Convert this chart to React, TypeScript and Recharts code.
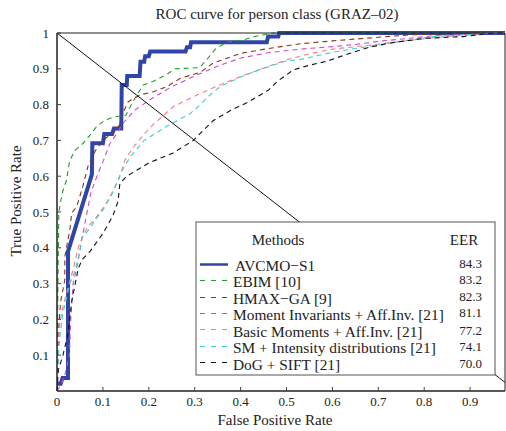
import React from 'react';
import { LineChart, Line, XAxis, YAxis } from 'recharts';

type P = [number, number];

const xTicks = [0, 0.1, 0.2, 0.3, 0.4, 0.5, 0.6, 0.7, 0.8, 0.9];
const yTicks = [0.1, 0.2, 0.3, 0.4, 0.5, 0.6, 0.7, 0.8, 0.9, 1];

const methods = [
  'AVCMO−S1',
  'EBIM [10]',
  'HMAX−GA [9]',
  'Moment Invariants + Aff.Inv. [21]',
  'Basic Moments + Aff.Inv. [21]',
  'SM + Intensity distributions [21]',
  'DoG + SIFT [21]',
];
const eer = ['84.3', '83.2', '82.3', '81.1', '77.2', '74.1', '70.0'];
const colors = ['#2f45a8', '#22a022', '#8c3410', '#cc4acc', '#ff7a7a', '#3ccfcf', '#111111'];

const avcmo: P[] = [
  [0, 0.02], [0.008, 0.02], [0.012, 0.036], [0.024, 0.036], [0.024, 0.39], [0.076, 0.605],
  [0.077, 0.692], [0.1, 0.692], [0.103, 0.718], [0.12, 0.718], [0.124, 0.733], [0.14, 0.733],
  [0.141, 0.855], [0.152, 0.855], [0.153, 0.88], [0.18, 0.88], [0.182, 0.92], [0.19, 0.92],
  [0.192, 0.935], [0.2, 0.935], [0.203, 0.948], [0.28, 0.948], [0.283, 0.96], [0.29, 0.96],
  [0.292, 0.974], [0.457, 0.974], [0.46, 0.99], [0.482, 0.99], [0.484, 1], [1, 1],
];
const ebim: P[] = [
  [0, 0], [0.002, 0.3], [0.004, 0.5], [0.008, 0.53], [0.013, 0.56], [0.021, 0.59], [0.024, 0.617],
  [0.028, 0.645], [0.04, 0.673], [0.057, 0.692], [0.072, 0.715], [0.086, 0.738], [0.105, 0.757],
  [0.126, 0.766], [0.15, 0.77], [0.166, 0.81], [0.188, 0.855], [0.21, 0.865], [0.24, 0.885],
  [0.257, 0.9], [0.31, 0.903], [0.326, 0.925], [0.345, 0.955], [0.37, 0.975], [0.405, 0.98],
  [0.43, 0.99], [0.47, 1], [1, 1],
];
const hmax: P[] = [
  [0, 0], [0.003, 0.12], [0.004, 0.18], [0.008, 0.25], [0.017, 0.31], [0.017, 0.375], [0.021, 0.403],
  [0.028, 0.45], [0.032, 0.497], [0.043, 0.515], [0.057, 0.575], [0.068, 0.63], [0.083, 0.67],
  [0.1, 0.7], [0.128, 0.728], [0.137, 0.745], [0.141, 0.77], [0.155, 0.808], [0.181, 0.827],
  [0.21, 0.836], [0.239, 0.85], [0.268, 0.873], [0.312, 0.89], [0.34, 0.916], [0.36, 0.925],
  [0.4, 0.943], [0.457, 0.956], [0.53, 0.97], [0.6, 0.978], [0.7, 0.988], [0.77, 0.995], [0.9, 1], [1, 1],
];
const moment: P[] = [
  [0, 0], [0.01, 0.02], [0.018, 0.05], [0.027, 0.1], [0.03, 0.2], [0.035, 0.3], [0.044, 0.35],
  [0.055, 0.43], [0.064, 0.49], [0.074, 0.555], [0.09, 0.61], [0.1, 0.64], [0.115, 0.69],
  [0.133, 0.725], [0.145, 0.75], [0.17, 0.785], [0.21, 0.82], [0.25, 0.85], [0.3, 0.88],
  [0.355, 0.91], [0.4, 0.93], [0.46, 0.945], [0.53, 0.955], [0.6, 0.962], [0.65, 0.968],
  [0.71, 0.978], [0.82, 0.992], [0.95, 1], [1, 1],
];
const basic: P[] = [
  [0, 0], [0.002, 0.12], [0.005, 0.18], [0.012, 0.23], [0.024, 0.29], [0.035, 0.338], [0.046, 0.4],
  [0.057, 0.436], [0.068, 0.46], [0.085, 0.485], [0.1, 0.51], [0.111, 0.533], [0.133, 0.585],
  [0.148, 0.645], [0.166, 0.68], [0.188, 0.715], [0.21, 0.745], [0.253, 0.794], [0.305, 0.827],
  [0.355, 0.855], [0.4, 0.878], [0.44, 0.897], [0.5, 0.925], [0.55, 0.942], [0.6, 0.955],
  [0.675, 0.965], [0.82, 0.987], [0.95, 1], [1, 1],
];
const smInt: P[] = [
  [0, 0], [0.003, 0.105], [0.007, 0.16], [0.013, 0.218], [0.028, 0.3], [0.04, 0.338], [0.05, 0.39],
  [0.054, 0.427], [0.072, 0.455], [0.083, 0.478], [0.1, 0.505], [0.12, 0.55], [0.14, 0.612],
  [0.16, 0.655], [0.19, 0.7], [0.24, 0.74], [0.29, 0.775], [0.31, 0.797], [0.327, 0.82],
  [0.355, 0.85], [0.4, 0.877], [0.44, 0.897], [0.5, 0.922], [0.53, 0.926], [0.6, 0.946],
  [0.675, 0.962], [0.82, 0.99], [0.95, 1], [1, 1],
];
const dogSift: P[] = [
  [0, 0], [0.003, 0.06], [0.013, 0.1], [0.024, 0.16], [0.032, 0.25], [0.046, 0.34], [0.054, 0.366],
  [0.072, 0.39], [0.1, 0.44], [0.122, 0.49], [0.133, 0.53], [0.137, 0.58], [0.152, 0.6],
  [0.2, 0.637], [0.253, 0.665], [0.297, 0.7], [0.34, 0.755], [0.38, 0.785], [0.415, 0.806],
  [0.46, 0.84], [0.48, 0.865], [0.515, 0.897], [0.55, 0.91], [0.59, 0.922], [0.63, 0.94],
  [0.68, 0.96], [0.725, 0.972], [0.8, 0.985], [0.885, 0.99], [0.95, 1], [1, 1],
];
const diagonal: P[] = [[0, 1], [1, 0]];

const seriesData = [avcmo, ebim, hmax, moment, basic, smInt, dogSift];

const toPts = (a: P[]) => a.map(([x, y]) => ({ x, y }));

const FONT = '"Liberation Serif", "DejaVu Serif", serif';
const fmt = (v: number) => (v === 1 ? '1' : String(v));

export default function App() {
  const tickStyle = { fontSize: 13, fill: '#222', fontFamily: FONT };
  return (
    <div style={{ position: 'absolute', left: 0, top: 0, width: 506, height: 431, background: '#fff' }}>
      <LineChart width={506} height={431} margin={{ top: 32, right: 0, bottom: 10, left: 0 }} style={{ fontFamily: FONT }}>
        <XAxis
          xAxisId={0}
          dataKey="x"
          type="number"
          domain={[0, 0.976]}
          allowDataOverflow
          ticks={xTicks}
          tickFormatter={fmt}
          tickSize={-4}
          tickMargin={10}
          height={30}
          tick={tickStyle}
          stroke="#222"
          axisLine={{ stroke: '#222', strokeWidth: 1.5 }}
          tickLine={{ stroke: '#444' }}
        />
        <XAxis
          xAxisId="top"
          orientation="top"
          dataKey="x"
          type="number"
          domain={[0, 0.976]}
          allowDataOverflow
          ticks={xTicks}
          tick={false}
          tickSize={-4}
          height={1}
          axisLine={{ stroke: '#222', strokeWidth: 1.2 }}
          tickLine={{ stroke: '#444' }}
        />
        <YAxis
          yAxisId={0}
          type="number"
          domain={[0, 1]}
          ticks={yTicks}
          tickFormatter={fmt}
          tickSize={-4}
          tickMargin={12}
          width={57}
          tick={tickStyle}
          axisLine={{ stroke: '#222', strokeWidth: 1.5 }}
          tickLine={{ stroke: '#444' }}
        />
        <YAxis
          yAxisId="right"
          orientation="right"
          type="number"
          domain={[0, 1]}
          ticks={yTicks}
          tick={false}
          tickSize={-4}
          width={1}
          axisLine={{ stroke: '#222', strokeWidth: 1 }}
          tickLine={{ stroke: '#444' }}
        />
        {seriesData.map((d, i) => (
          <Line
            key={methods[i]}
            data={toPts(d)}
            dataKey="y"
            type="linear"
            stroke={colors[i]}
            strokeWidth={i === 0 ? 4 : 1.1}
            strokeDasharray={i === 0 ? undefined : '5 4'}
            dot={false}
            activeDot={false}
            isAnimationActive={false}
          />
        ))}
        <Line
          data={toPts(diagonal)}
          dataKey="y"
          type="linear"
          stroke="#111"
          strokeWidth={1}
          dot={false}
          activeDot={false}
          isAnimationActive={false}
        />
      </LineChart>
      <svg
        width={506}
        height={431}
        style={{ position: 'absolute', left: 0, top: 0, pointerEvents: 'none', fontFamily: FONT }}
      >
        <text x={277} y={14} textAnchor="middle" dominantBaseline="central" fontSize={15} fill="#222">
          ROC curve for person class (GRAZ–02)
        </text>
        <text x={275} y={420} textAnchor="middle" dominantBaseline="central" fontSize={15} fill="#222">
          False Positive Rate
        </text>
        <text
          x={16}
          y={201}
          textAnchor="middle"
          dominantBaseline="central"
          fontSize={15}
          fill="#222"
          transform="rotate(-90 16 201)"
        >
          True Positive Rate
        </text>
        <rect x={196} y={222} width={299} height={153} fill="#fff" stroke="#555" strokeWidth={1} />
        <text x={278} y={240} textAnchor="middle" dominantBaseline="central" fontSize={15} fill="#222">
          Methods
        </text>
        <text x={464} y={240} textAnchor="middle" dominantBaseline="central" fontSize={15} fill="#222">
          EER
        </text>
        {methods.map((m, i) => {
          const yt = 265 + i * 16.5;
          const ys = Math.round(264 + i * 16.35) + 0.5;
          return (
            <g key={m}>
              <line
                x1={200}
                x2={228}
                y1={ys}
                y2={ys}
                stroke={colors[i]}
                strokeWidth={i === 0 ? 2.5 : 1.2}
                strokeDasharray={i === 0 ? undefined : '5 6'}
              />
              <text x={i === 0 ? 235 : 233} y={yt} dominantBaseline="central" fontSize={15.4} fill="#222">
                {m}
              </text>
              <text x={482} y={yt - 2 + (i >= 4 ? 1 : 0)} textAnchor="end" dominantBaseline="central" fontSize={13} fill="#222">
                {eer[i]}
              </text>
            </g>
          );
        })}
      </svg>
    </div>
  );
}
